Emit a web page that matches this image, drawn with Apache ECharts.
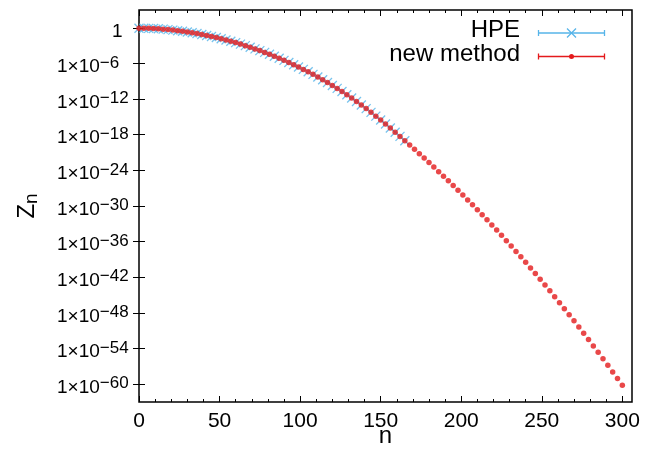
<!DOCTYPE html>
<html><head><meta charset="utf-8">
<script src="https://cdn.jsdelivr.net/npm/echarts@6/dist/echarts.min.js"></script>
<style>html,body{margin:0;padding:0;background:#fff}#c{width:665px;height:449px}</style>
</head><body><div id="c"></div>
<script>
// ---- data ----
const seriesNames = ['HPE', 'new method'];
const nNew = [0,3,6,9,12,15,18,21,24,27,30,33,36,39,42,45,48,51,54,57,60,63,66,69,72,75,78,81,84,87,90,93,96,99,102,105,108,111,114,117,120,123,126,129,132,135,138,141,144,147,150,153,156,159,162,165,168,171,174,177,180,183,186,189,192,195,198,201,204,207,210,213,216,219,222,225,228,231,234,237,240,243,246,249,252,255,258,261,264,267,270,273,276,279,282,285,288,291,294,297,300];
const zNew = [0.87,0.85,0.81,0.76,0.69,0.60,0.50,0.41,0.33,0.26,0.195,0.148,0.107,7.59e-2,5.25e-2,3.55e-2,2.34e-2,1.48e-2,9.12e-3,5.50e-3,3.24e-3,1.82e-3,1.00e-3,5.37e-4,2.82e-4,1.45e-4,7.24e-5,3.47e-5,1.62e-5,7.41e-6,3.31e-6,1.45e-6,6.17e-7,2.51e-7,1.00e-7,3.89e-8,1.45e-8,5.25e-9,1.82e-9,6.17e-10,2.00e-10,6.31e-11,1.86e-11,5.37e-12,1.51e-12,3.98e-13,1.02e-13,2.51e-14,5.89e-15,1.35e-15,2.95e-16,6.31e-17,1.32e-17,2.63e-18,5.25e-19,1.00e-19,1.91e-20,3.55e-21,6.46e-22,1.15e-22,2.04e-23,3.55e-24,6.03e-25,1.02e-25,1.70e-26,2.75e-27,4.37e-28,6.92e-29,1.05e-29,1.55e-30,2.29e-31,3.31e-32,4.68e-33,6.46e-34,8.71e-35,1.15e-35,1.48e-36,1.86e-37,2.29e-38,2.75e-39,3.24e-40,3.72e-41,4.17e-42,4.57e-43,4.90e-44,5.13e-45,5.25e-46,5.25e-47,5.13e-48,4.90e-49,4.57e-50,4.17e-51,3.72e-52,3.24e-53,2.75e-54,2.29e-55,1.86e-56,1.48e-57,1.15e-58,8.71e-60,6.31e-61];
const nHPE = [0,3,6,9,12,15,18,21,24,27,30,33,36,39,42,45,48,51,54,57,60,63,66,69,72,75,78,81,84,87,90,93,96,99,102,105,108,111,114,117,120,123,126,129,132,135,138,141,144,147,150,153,156,159,162,165];
const zHPE = [0.87,0.85,0.81,0.76,0.69,0.60,0.50,0.41,0.33,0.26,0.195,0.148,0.107,7.59e-2,5.25e-2,3.55e-2,2.34e-2,1.48e-2,9.12e-3,5.50e-3,3.24e-3,1.82e-3,1.00e-3,5.37e-4,2.82e-4,1.45e-4,7.24e-5,3.47e-5,1.62e-5,7.41e-6,3.31e-6,1.45e-6,6.17e-7,2.51e-7,1.00e-7,3.89e-8,1.45e-8,5.25e-9,1.82e-9,6.17e-10,2.00e-10,6.31e-11,1.86e-11,5.37e-12,1.51e-12,3.98e-13,1.02e-13,2.51e-14,5.89e-15,1.35e-15,2.95e-16,6.31e-17,1.32e-17,2.63e-18,5.25e-19,1.00e-19];
const xMajorTicks = [0,50,100,150,200,250,300];
const xMinorTicks = [0,10,20,30,40,50,60,70,80,90,100,110,120,130,140,150,160,170,180,190,200,210,220,230,240,250,260,270,280,290,300];
const yTicks = [1,1e-6,1e-12,1e-18,1e-24,1e-30,1e-36,1e-42,1e-48,1e-54,1e-60];
const xName = 'n';
const yName = 'Z{sub|n}';

// ---- chart ----
const FONT = 'Liberation Sans, Arial, Helvetica, sans-serif';
const BLUE = '#56b4e9';
const RED = '#e41a1c';
const FSY = 19, FSX = 21, FSL = 24;
const pair = (xs, ys) => xs.map((x, i) => [x, ys[i]]);
const yFmt = v => {
  const e = Math.round(Math.log10(v));
  if (e === 0) return '{p|}{b|1}';
  return '{b|1\u00d710}{sup|\u2212' + (-e) + '}';
};
const xBase = {type:'value', min:0, max:306, gridIndex:0,
  axisLine:{show:false}, splitLine:{show:false}, axisLabel:{show:false}};
const yBase = {type:'log', logBase:10, min:1e-63, max:1e3, gridIndex:0,
  axisLine:{show:false}, splitLine:{show:false}, axisLabel:{show:false}};
const tickStyle = {color:'#000', width:1};

const chart = echarts.init(document.getElementById('c'), null, {renderer:'canvas'});
chart.setOption({
  animation:false,
  backgroundColor:'#fff',
  grid:{left:139, right:33, top:10, bottom:47, show:true, borderColor:'#000', borderWidth:1.5,
        backgroundColor:'transparent', containLabel:false, outerBoundsMode:'none'},
  xAxis:[
    Object.assign({}, xBase, {position:'bottom',
      axisTick:{show:true, inside:true, length:3, customValues:xMinorTicks, lineStyle:tickStyle},
      axisLabel:{show:true, customValues:xMajorTicks, color:'#000', fontSize:FSX, fontFamily:FONT, margin:9},
      name:xName, nameLocation:'middle', nameGap:22, nameMoveOverlap:false,
      nameTextStyle:{color:'#000', fontSize:FSL, fontFamily:FONT}}),
    Object.assign({}, xBase, {position:'bottom',
      axisTick:{show:true, inside:true, length:6, customValues:xMajorTicks, lineStyle:tickStyle}}),
    Object.assign({}, xBase, {position:'top',
      axisTick:{show:true, inside:true, length:3, customValues:xMinorTicks, lineStyle:tickStyle}}),
    Object.assign({}, xBase, {position:'top',
      axisTick:{show:true, inside:true, length:6, customValues:xMajorTicks, lineStyle:tickStyle}})
  ],
  yAxis:[
    Object.assign({}, yBase, {position:'left',
      axisTick:{show:true, inside:true, length:6, customValues:yTicks, lineStyle:tickStyle},
      axisLabel:{show:true, customValues:yTicks, formatter:yFmt, color:'#000', fontSize:FSY, fontFamily:FONT,
        margin:82, align:'left', padding:[4,0,0,0],
        rich:{
          p:{width:55, fontSize:17, fontFamily:FONT, verticalAlign:'bottom', padding:[0,0,5,0]},
          b:{fontSize:FSY, fontFamily:FONT, color:'#000', verticalAlign:'bottom'},
          sup:{fontSize:17, fontFamily:FONT, color:'#000', verticalAlign:'bottom', padding:[0,0,5,0]}}},
      name:yName, nameLocation:'middle', nameGap:98, nameRotate:90, nameMoveOverlap:false,
      nameTextStyle:{color:'#000', fontSize:FSL, fontFamily:FONT,
        rich:{sub:{fontSize:19, fontFamily:FONT, color:'#000', padding:[8,0,0,0]}}}}),
    Object.assign({}, yBase, {position:'right',
      axisTick:{show:true, inside:true, length:6, customValues:yTicks, lineStyle:tickStyle}})
  ],
  series:[
    {name:seriesNames[0], type:'scatter', xAxisIndex:0, yAxisIndex:0,
     data:pair(nHPE, zHPE), symbol:'path://M0,0L10,10M10,0L0,10', symbolSize:9,
     itemStyle:{color:'rgba(0,0,0,0)', borderColor:BLUE, borderWidth:1.3}, z:2},
    {name:seriesNames[1], type:'scatter', xAxisIndex:0, yAxisIndex:0,
     data:pair(nNew, zNew), symbol:'circle', symbolSize:5.5,
     itemStyle:{color:RED}, z:3}
  ],
  graphic:[
    {type:'text', right:665-520, top:18, style:{text:seriesNames[0], font:FSL+'px '+FONT, fill:'#000', textAlign:'right'}},
    {type:'text', right:665-520, top:42, style:{text:seriesNames[1], font:FSL+'px '+FONT, fill:'#000', textAlign:'right'}},
    {type:'group', left:536, top:26, children:[
      {type:'line', shape:{x1:0,y1:3,x2:66,y2:3}, style:{stroke:BLUE, lineWidth:1.3}},
      {type:'line', shape:{x1:0,y1:0,x2:0,y2:6}, style:{stroke:BLUE, lineWidth:1.3}},
      {type:'line', shape:{x1:66,y1:0,x2:66,y2:6}, style:{stroke:BLUE, lineWidth:1.3}},
      {type:'line', shape:{x1:28.5,y1:-1.5,x2:37.5,y2:7.5}, style:{stroke:BLUE, lineWidth:1.3}},
      {type:'line', shape:{x1:37.5,y1:-1.5,x2:28.5,y2:7.5}, style:{stroke:BLUE, lineWidth:1.3}}
    ]},
    {type:'group', left:536, top:51, children:[
      {type:'line', shape:{x1:0,y1:3,x2:66,y2:3}, style:{stroke:RED, lineWidth:1.3}},
      {type:'line', shape:{x1:0,y1:0,x2:0,y2:6}, style:{stroke:RED, lineWidth:1.3}},
      {type:'line', shape:{x1:66,y1:0,x2:66,y2:6}, style:{stroke:RED, lineWidth:1.3}},
      {type:'circle', shape:{cx:33,cy:3,r:2.5}, style:{fill:RED}}
    ]}
  ]
});
</script></body></html>
